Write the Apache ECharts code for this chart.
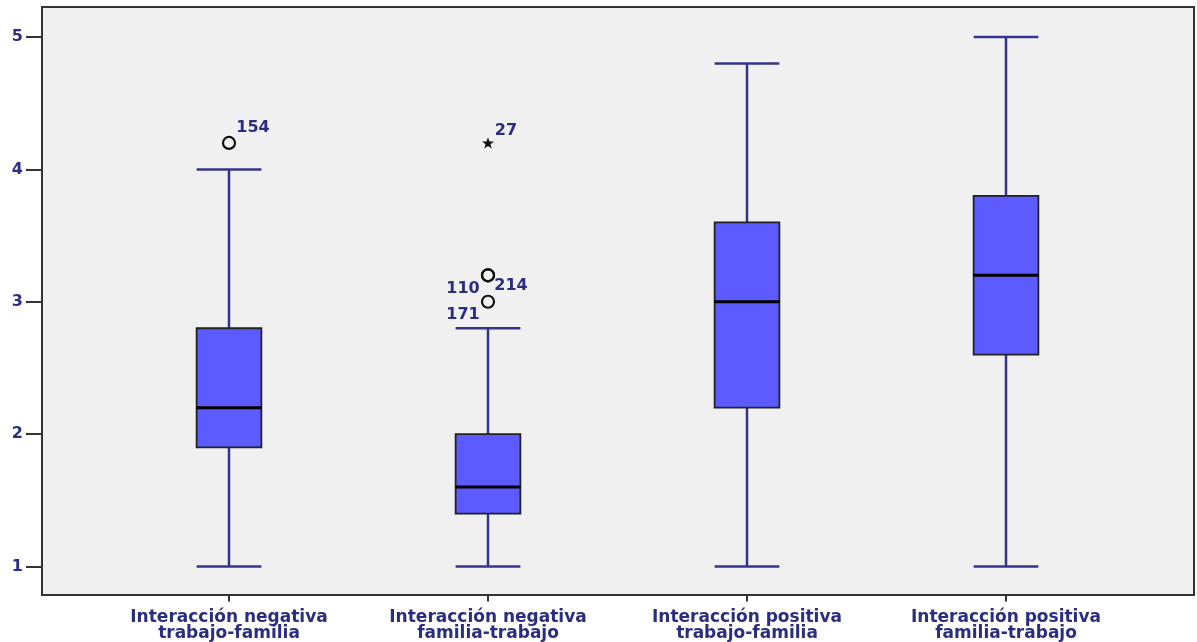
<!DOCTYPE html>
<html>
<head>
<meta charset="utf-8">
<script src="https://cdn.jsdelivr.net/npm/echarts@6/dist/echarts.min.js"></script>
<style>html,body{margin:0;padding:0;background:#fff}#c{width:1197px;height:642px}</style>
</head>
<body>
<div id="c"></div>
<script>
const categories = ['Interacción negativa\ntrabajo-familia','Interacción negativa\nfamilia-trabajo','Interacción positiva\ntrabajo-familia','Interacción positiva\nfamilia-trabajo'];
const whiskerLow = [1.0, 1.0, 1.0, 1.0];
const quartile1 = [1.9, 1.4, 2.2, 2.6];
const medians = [2.2, 1.6, 3.0, 3.2];
const quartile3 = [2.8, 2.0, 3.6, 3.8];
const whiskerHigh = [4.0, 2.8, 4.8, 5.0];
const outlierCategory = [0, 1, 1, 1, 1];
const outlierValues = [4.2, 4.2, 3.2, 3.2, 3.0];
const outlierIds = ['154', '27', '214', '110', '171'];
const outlierKinds = ['outlier', 'extreme', 'outlier', 'outlier', 'outlier'];
const yTicks = [1, 2, 3, 4, 5];

const navy = '#2b2d80';
const labelOffsets = {'154':[24,-15], '27':[18,-12], '214':[23,11], '110':[-25,14], '171':[-25,13]};
const starPath = 'path://M0,-10 L2.35,-3.24 9.51,-3.09 3.8,1.24 5.88,8.09 0,4 -5.88,8.09 -3.8,1.24 -9.51,-3.09 -2.35,-3.24Z';

const boxData = categories.map((c, i) => [i, whiskerLow[i], quartile1[i], medians[i], quartile3[i], whiskerHigh[i]]);
const outlierData = outlierValues.map((v, i) => {
  const star = outlierKinds[i] === 'extreme';
  return {
    value: [outlierCategory[i], v],
    symbol: star ? starPath : 'circle',
    symbolSize: 12,
    symbolKeepAspect: true,
    itemStyle: star ? {color: '#111', borderWidth: 0, opacity: 1} : {color: 'rgba(0,0,0,0)', borderColor: '#111', borderWidth: 2.2, opacity: 1},
    label: {show: true, formatter: outlierIds[i], position: 'inside', offset: labelOffsets[outlierIds[i]],
      color: navy, fontWeight: 'bold', fontSize: 16, fontFamily: 'DejaVu Sans'}
  };
});

const chart = echarts.init(document.getElementById('c'), null, {renderer: 'canvas'});
chart.setOption({
  animation: false,
  backgroundColor: '#ffffff',
  grid: [
    {left: 42, top: 7, width: 1152, height: 588, show: true, backgroundColor: '#f0f0f0', borderColor: '#333', borderWidth: 2, containLabel: false},
    {left: 99.5, top: 37, width: 1036, height: 530, containLabel: false}
  ],
  xAxis: [
    {gridIndex: 0, type: 'value', min: 0, max: 1, show: false},
    {gridIndex: 1, type: 'category', data: categories, boundaryGap: true, offset: 28,
      axisLine: {show: false},
      axisTick: {show: true, alignWithLabel: true, length: 7, lineStyle: {color: '#333', width: 2}},
      axisLabel: {margin: 15, color: navy, fontWeight: 'bold', fontSize: 17, fontFamily: 'DejaVu Sans', lineHeight: 16, interval: 0},
      splitLine: {show: false}}
  ],
  yAxis: [
    {gridIndex: 0, type: 'value', min: 0, max: 1, show: false},
    {gridIndex: 1, type: 'value', min: yTicks[0], max: yTicks[yTicks.length - 1], interval: 1, offset: 57.5,
      axisLine: {show: false},
      axisTick: {show: true, length: 16, lineStyle: {color: '#333', width: 2}},
      axisLabel: {margin: 19, color: navy, fontWeight: 'bold', fontSize: 16, fontFamily: 'DejaVu Sans'},
      splitLine: {show: false}}
  ],
  series: [
    {
      type: 'custom', xAxisIndex: 1, yAxisIndex: 1, data: boxData,
      encode: {x: 0, y: [1, 2, 3, 4, 5]},
      renderItem: function (params, api) {
        const x = api.value(0);
        const pMin = api.coord([x, api.value(1)]);
        const pQ1 = api.coord([x, api.value(2)]);
        const pMed = api.coord([x, api.value(3)]);
        const pQ3 = api.coord([x, api.value(4)]);
        const pMax = api.coord([x, api.value(5)]);
        const w = api.size([1, 0])[0] * 0.25;
        const cx = pMed[0];
        const wl = {stroke: '#34348a', lineWidth: 2.5};
        return {
          type: 'group',
          children: [
            {type: 'line', shape: {x1: cx, y1: pMin[1], x2: cx, y2: pQ1[1]}, style: wl},
            {type: 'line', shape: {x1: cx, y1: pQ3[1], x2: cx, y2: pMax[1]}, style: wl},
            {type: 'line', shape: {x1: cx - w / 2, y1: pMin[1], x2: cx + w / 2, y2: pMin[1]}, style: wl},
            {type: 'line', shape: {x1: cx - w / 2, y1: pMax[1], x2: cx + w / 2, y2: pMax[1]}, style: wl},
            {type: 'rect', shape: {x: cx - w / 2, y: pQ3[1], width: w, height: pQ1[1] - pQ3[1]},
              style: {fill: '#5b5bff', stroke: '#222', lineWidth: 1.8}},
            {type: 'line', shape: {x1: cx - w / 2, y1: pMed[1], x2: cx + w / 2, y2: pMed[1]}, style: {stroke: '#000', lineWidth: 3}}
          ]
        };
      }
    },
    {
      type: 'scatter', xAxisIndex: 1, yAxisIndex: 1, data: outlierData, z: 5
    }
  ]
});
</script>
</body>
</html>
